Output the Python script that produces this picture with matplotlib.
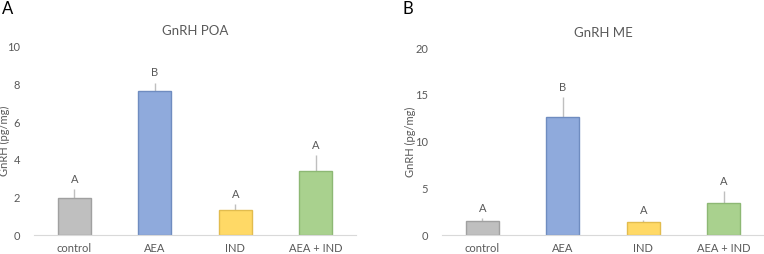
import matplotlib.pyplot as plt
import numpy as np

plt.rcParams['font.family'] = ['Lato', 'DejaVu Sans']

categories = ["control", "AEA", "IND", "AEA + IND"]
poa_mean = [1.95, 7.66, 1.33, 3.40]
poa_err = [0.48, 0.44, 0.32, 0.85]
poa_letters = ["A", "B", "A", "A"]
me_mean = [1.53, 12.68, 1.36, 3.43]
me_err = [0.26, 2.07, 0.21, 1.28]
me_letters = ["A", "B", "A", "A"]

fills = ["#BFBFBF", "#8FAADC", "#FFD966", "#A9D18E"]
edges = ["#A0A0A0", "#6F8CC0", "#E2BC4E", "#8DB874"]
txt = "#595959"

fig = plt.figure(figsize=(7.64, 2.54), dpi=100)
axA = fig.add_axes([0.0445, 0.0748, 0.4215, 0.741])
axB = fig.add_axes([0.5785, 0.0748, 0.4215, 0.735])


def panel(ax, mean, err, letters, ymax, step, title, labx):
    x = np.arange(len(categories))
    ax.bar(x, mean, width=0.41, color=fills, edgecolor=edges, linewidth=1, zorder=2)
    ax.errorbar(x, mean, yerr=[np.zeros(len(err)), err], fmt='none',
                ecolor="#BFBFBF", elinewidth=1, capsize=0, zorder=1)
    for xi, m, e, l in zip(x, mean, err, letters):
        ax.annotate(l, (xi, m + e), xytext=(0, 3), textcoords='offset points',
                    ha='center', va='bottom', fontsize=8, color=txt)
    ax.set_xlim(-0.5, len(categories) - 0.5)
    ax.set_ylim(0, ymax)
    ax.set_yticks(np.arange(0, ymax + 0.1, step))
    ax.set_xticks(x)
    ax.set_xticklabels(categories)
    ax.tick_params(length=0, labelsize=8, labelcolor=txt, pad=10)
    ax.tick_params(axis='x', pad=6)
    for s in ['top', 'right', 'left']:
        ax.spines[s].set_visible(False)
    ax.spines['bottom'].set_color("#D9D9D9")
    ax.set_ylabel("GnRH (pg/mg)", fontsize=8, color=txt)
    ax.yaxis.set_label_coords(labx, 0.5)
    ax.set_title(title, fontsize=9.5, color=txt, pad=8.5)


panel(axA, poa_mean, poa_err, poa_letters, 10, 2, "GnRH POA", -0.073)
panel(axB, me_mean, me_err, me_letters, 20, 5, "GnRH ME", -0.081)

fig.text(0.003, 0.965, "A", fontsize=12, ha='left', va='center')
fig.text(0.527, 0.965, "B", fontsize=12, ha='left', va='center')

fig.savefig("out.png", dpi=100)
